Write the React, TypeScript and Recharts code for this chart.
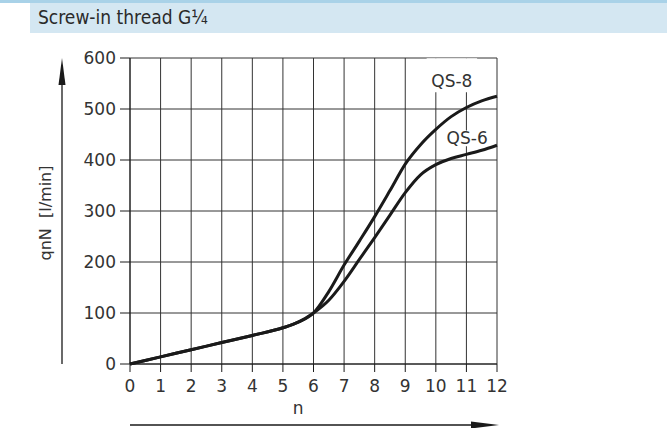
import React from "react";
import {
  LineChart,
  Line,
  XAxis,
  YAxis,
  CartesianGrid,
  ReferenceArea,
} from "recharts";

const nValues = [0, 1, 2, 3, 4, 5, 5.5, 6, 6.5, 7, 7.5, 8, 8.5, 9, 9.5, 10, 10.5, 11, 11.5, 12];
const qs8 = [0, 14, 28, 42, 56, 71, 82, 100, 142, 194, 241, 289, 340, 392, 430, 460, 485, 503, 516, 525];
const qs6 = [0, 14, 28, 42, 56, 71, 82, 100, 125, 162, 205, 248, 292, 336, 371, 391, 403, 411, 419, 429];

const xTicks = [0, 1, 2, 3, 4, 5, 6, 7, 8, 9, 10, 11, 12];
const yTicks = [0, 100, 200, 300, 400, 500, 600];

const title = "Screw-in thread G\u00BC";
const yTitle = "qnN  [l/min]";
const xTitle = "n";

const data = nValues.map((n, i) => ({ n, qs8: qs8[i], qs6: qs6[i] }));

const INK = "#1a1a1a";
const GRID = "#333";
const FONT = "'DejaVu Sans', sans-serif";
const TITLE_FONT = "'DejaVu Sans Condensed', 'DejaVu Sans', sans-serif";

function YTitle(props: any) {
  const { x, y, height } = props.viewBox;
  const ax = x + 62;
  const cy = y + height / 2 + 2;
  return (
    <g>
      <line x1={ax} y1={y + 20} x2={ax} y2={y + height} stroke={INK} strokeWidth={1.3} />
      <polygon points={`${ax},${y} ${ax - 3.5},${y + 27} ${ax + 3.5},${y + 27}`} fill={INK} />
      <text
        x={x + 45}
        y={cy}
        transform={`rotate(-90 ${x + 45} ${cy})`}
        textAnchor="middle"
        dominantBaseline="central"
        fontFamily={FONT}
        fontSize={16}
        fill="#333"
        style={{ whiteSpace: "pre" }}
      >
        {yTitle}
      </text>
    </g>
  );
}

function XTitle(props: any) {
  const { x, y, width } = props.viewBox;
  const ay = y + 61;
  return (
    <g>
      <line x1={x} y1={ay} x2={x + width - 20} y2={ay} stroke={INK} strokeWidth={1.3} />
      <polygon points={`${x + width + 2},${ay} ${x + width - 26},${ay - 3.5} ${x + width - 26},${ay + 3.5}`} fill={INK} />
      <text
        x={x + width * 0.458}
        y={y + 50}
        textAnchor="middle"
        fontFamily={FONT}
        fontSize={17}
        fill="#333"
      >
        {xTitle}
      </text>
    </g>
  );
}

export default function App() {
  return (
    <div style={{ position: "absolute", left: 0, top: 0, width: 667, height: 428, background: "#fff" }}>
      <div style={{ position: "absolute", left: 0, top: 0, width: 667, height: 3, background: "#a9d2e8" }} />
      <div
        style={{
          position: "absolute",
          left: 30,
          top: 3,
          width: 637,
          height: 30,
          background: "#d4e7f2",
        }}
      >
        <span
          style={{
            position: "absolute",
            left: 8,
            top: 3,
            fontFamily: TITLE_FONT,
            fontSize: 19,
            color: "#2a2a2a",
            whiteSpace: "nowrap",
          }}
        >
          {title}
        </span>
      </div>
      <div style={{ position: "absolute", left: 0, top: 0 }}>
        <LineChart
          width={667}
          height={428}
          data={data}
          margin={{ top: 58, right: 170, bottom: 0, left: 0 }}
        >
          <CartesianGrid stroke={GRID} strokeWidth={1} />
          <ReferenceArea
            x1={9.7}
            x2={11.35}
            y1={533}
            y2={599.5}
            fill="#fff"
            fillOpacity={1}
            stroke="none"
            label={{
              value: "QS-8",
              position: "center",
              fontFamily: FONT,
              fontSize: 17,
              fill: "#333",
              dy: 6,
            }}
          />
          <ReferenceArea
            x1={10.25}
            x2={11.8}
            y1={427}
            y2={458}
            fill="#fff"
            fillOpacity={1}
            stroke="none"
            label={{
              value: "QS-6",
              position: "center",
              fontFamily: FONT,
              fontSize: 17,
              fill: "#333",
            }}
          />
          <XAxis
            dataKey="n"
            type="number"
            domain={[0, 12]}
            ticks={xTicks}
            interval={0}
            height={64}
            tickSize={8}
            tickMargin={8}
            stroke={INK}
            tick={{ fontFamily: FONT, fontSize: 17, fill: "#333" }}
            label={{ content: XTitle }}
          />
          <YAxis
            type="number"
            domain={[0, 600]}
            ticks={yTicks}
            interval={0}
            width={130}
            tickSize={10}
            tickMargin={4}
            stroke={INK}
            tick={{ fontFamily: FONT, fontSize: 17, fill: "#333" }}
            label={{ content: YTitle }}
          />
          <Line
            dataKey="qs8"
            type="monotone"
            stroke={INK}
            strokeWidth={3}
            dot={false}
            isAnimationActive={false}
          />
          <Line
            dataKey="qs6"
            type="monotone"
            stroke={INK}
            strokeWidth={3}
            dot={false}
            isAnimationActive={false}
          />
        </LineChart>
      </div>
    </div>
  );
}
